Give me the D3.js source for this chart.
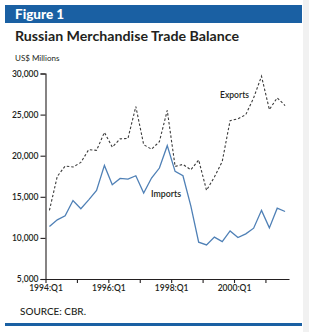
<!DOCTYPE html>
<html>
<head>
<meta charset="utf-8">
<script src="https://cdn.jsdelivr.net/npm/d3@7"></script>
<style>
  html, body { margin: 0; padding: 0; background: #f1f1f1; }
  svg { display: block; }
  text { font-family: Lato, "Open Sans", sans-serif; fill: #231f20; }
</style>
</head>
<body>
<div id="chart"></div>
<script>
// Quarterly data, 1994:Q1 .. 2001:Q3 (US$ millions)
const quarters = d3.range(31).map(i => `${1994 + Math.floor(i / 4)}:Q${i % 4 + 1}`);

const exportsValues = [
  13350, 17480, 18740, 18620, 19180, 20730, 20650, 22840,
  21040, 22050, 22110, 25980, 21340, 20790, 21710, 25510,
  18700, 18940, 18290, 19480, 15790, 17400, 19300, 24270,
  24480, 25000, 27040, 29670, 25610, 27040, 26100
];

const importsValues = [
  11380, 12200, 12680, 14550, 13540, 14630, 15770, 18820,
  16460, 17230, 17160, 17560, 15450, 17280, 18500, 21220,
  18090, 17560, 13900, 9480, 9150, 10090, 9550, 10850,
  10040, 10490, 11180, 13350, 11220, 13620, 13210
];

const yTicks = [5000, 10000, 15000, 20000, 25000, 30000];
const xTickLabels = ["1994:Q1", "1996:Q1", "1998:Q1", "2000:Q1"];

const width = 309;
const height = 332;

const svg = d3.select("#chart")
  .append("svg")
  .attr("width", width)
  .attr("height", height);

// white panel with a grey strip on the right
svg.append("rect")
  .attr("x", 0).attr("y", 0)
  .attr("width", 303).attr("height", height)
  .attr("fill", "#fff");

// Header bar
svg.append("rect")
  .attr("x", 5).attr("y", 5)
  .attr("width", 297).attr("height", 18)
  .attr("fill", "#1a60a3");

svg.append("text")
  .attr("x", 15).attr("y", 19)
  .attr("font-size", 13.5)
  .attr("font-weight", 900)
  .style("fill", "#fff")
  .text("Figure 1");

svg.append("text")
  .attr("x", 15).attr("y", 41)
  .attr("font-size", 13.5)
  .attr("font-weight", 700)
  .attr("textLength", 224)
  .attr("lengthAdjust", "spacingAndGlyphs")
  .text("Russian Merchandise Trade Balance");

svg.append("text")
  .attr("x", 15).attr("y", 61)
  .attr("font-size", 8)
  .text("US$ Millions");

// Scales
const x = d3.scaleLinear().domain([0, 31]).range([45.5, 289]);
const y = d3.scaleLinear().domain([5000, 30000]).range([279, 73.5]);

// Y axis
const yAxis = svg.append("g")
  .attr("transform", "translate(45.5,0)")
  .call(d3.axisLeft(y).tickValues(yTicks).tickSize(5).tickPadding(2)
    .tickFormat(d3.format(",")));

yAxis.select(".domain").attr("stroke", "#231f20").attr("stroke-width", 1.1);
yAxis.selectAll(".tick line").attr("stroke", "#231f20").attr("stroke-width", 1.1);
yAxis.selectAll("text")
  .attr("font-size", 8.5)
  .attr("font-weight", 600)
  .attr("font-family", "Lato, sans-serif")
  .attr("fill", "#231f20");

// X axis: one tick per year, labels every other year
const xAxis = svg.append("g")
  .attr("transform", `translate(0,${y(5000)})`)
  .call(d3.axisBottom(x).tickValues(d3.range(0, 31, 4)).tickSize(4).tickPadding(2)
    .tickSizeOuter(0)
    .tickFormat(d => (d % 8 === 0 ? xTickLabels[d / 8] : "")));

xAxis.select(".domain").attr("stroke", "#231f20").attr("stroke-width", 1.1);
xAxis.selectAll(".tick line").attr("stroke", "#231f20").attr("stroke-width", 1.1);
xAxis.selectAll("text")
  .attr("font-size", 8.5)
  .attr("font-weight", 600)
  .attr("font-family", "Lato, sans-serif")
  .attr("fill", "#231f20");

// Lines (points sit at the middle of each quarter)
const line = d3.line()
  .x((d, i) => x(i + 0.5))
  .y(d => y(d));

svg.append("path")
  .datum(importsValues)
  .attr("fill", "none")
  .attr("stroke", "#4f80b6")
  .attr("stroke-width", 1.3)
  .attr("stroke-linejoin", "miter")
  .attr("d", line);

svg.append("path")
  .datum(exportsValues)
  .attr("fill", "none")
  .attr("stroke", "#3a3a3a")
  .attr("stroke-width", 1.1)
  .attr("stroke-dasharray", "2.5,2")
  .attr("d", line);

// Series labels
svg.append("text")
  .attr("x", 220).attr("y", 98)
  .attr("font-size", 9.5)
  .attr("font-weight", 600)
  .attr("textLength", 29)
  .attr("lengthAdjust", "spacingAndGlyphs")
  .text("Exports");

svg.append("text")
  .attr("x", 151).attr("y", 196.5)
  .attr("font-size", 9.5)
  .attr("font-weight", 600)
  .attr("textLength", 30)
  .attr("lengthAdjust", "spacingAndGlyphs")
  .text("Imports");

// Source + bottom rule
svg.append("text")
  .attr("x", 20).attr("y", 315)
  .attr("font-size", 9.5)
  .attr("font-weight", 500)
  .attr("textLength", 66)
  .attr("lengthAdjust", "spacingAndGlyphs")
  .text("SOURCE: CBR.");

svg.append("rect")
  .attr("x", 5).attr("y", 323)
  .attr("width", 297).attr("height", 3)
  .attr("fill", "#1a60a3");
</script>
</body>
</html>
